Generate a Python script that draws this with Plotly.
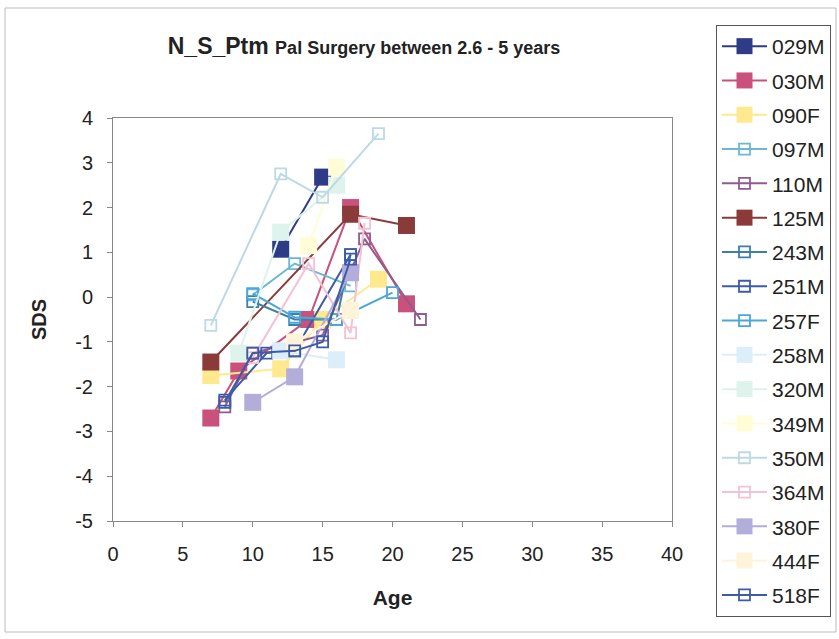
import plotly.graph_objects as go

# ---- data ----
names = ["029M", "030M", "090F", "097M", "110M", "125M", "243M", "251M", "257F",
         "258M", "320M", "349M", "350M", "364M", "380F", "444F", "518F"]

x_029M = [12, 15]
y_029M = [1.07, 2.68]
x_030M = [7, 9, 14, 17, 21]
y_030M = [-2.7, -1.65, -0.5, 2.0, -0.15]
x_090F = [7, 12, 15, 19]
y_090F = [-1.75, -1.6, -0.5, 0.4]
x_097M = [10, 13, 17]
y_097M = [0.05, 0.75, 0.25]
x_110M = [8, 10, 15, 18, 22]
y_110M = [-2.45, -1.25, -0.85, 1.3, -0.5]
x_125M = [7, 17, 21]
y_125M = [-1.45, 1.85, 1.6]
x_243M = [10, 13, 16, 17]
y_243M = [-0.1, -0.5, -0.5, 0.95]
x_251M = [8, 11, 13, 17]
y_251M = [-2.3, -1.25, -1.2, 0.95]
x_257F = [10, 13, 16, 20]
y_257F = [0.08, -0.45, -0.5, 0.1]
x_258M = [12, 16]
y_258M = [-1.2, -1.4]
x_320M = [9, 12, 16]
y_320M = [-1.25, 1.45, 2.5]
x_349M = [14, 16]
y_349M = [1.15, 2.9]
x_350M = [7, 12, 15, 19]
y_350M = [-0.63, 2.75, 2.23, 3.65]
x_364M = [10, 14, 17, 18]
y_364M = [-1.35, 0.75, -0.8, 1.65]
x_380F = [10, 13, 17]
y_380F = [-2.35, -1.78, 0.55]
x_444F = [13, 17]
y_444F = [-1.0, -0.3]
x_518F = [8, 10, 13, 15, 17]
y_518F = [-2.35, -1.25, -1.2, -1.0, 0.85]

x_tick_vals = [0, 5, 10, 15, 20, 25, 30, 35, 40]
x_tick_text = ["0", "5", "10", "15", "20", "25", "30", "35", "40"]
y_tick_vals = [-5, -4, -3, -2, -1, 0, 1, 2, 3, 4]
y_tick_text = ["-5", "-4", "-3", "-2", "-1", "0", "1", "2", "3", "4"]

xs = [x_029M, x_030M, x_090F, x_097M, x_110M, x_125M, x_243M, x_251M, x_257F,
      x_258M, x_320M, x_349M, x_350M, x_364M, x_380F, x_444F, x_518F]
ys = [y_029M, y_030M, y_090F, y_097M, y_110M, y_125M, y_243M, y_251M, y_257F,
      y_258M, y_320M, y_349M, y_350M, y_364M, y_380F, y_444F, y_518F]

# ---- styles ----
colors = ["#2E3B87", "#C9517C", "#FFE98E", "#6AB8D4", "#8E5C8E", "#8B3A3A", "#3C7FA9",
          "#3C5CA8", "#4BA7D6", "#DCEEFA", "#DDF3EC", "#FFFDD6", "#BCD9E6", "#F2C3D2",
          "#B3ADDA", "#FFF4DA", "#3D5BA6"]
filled = [True, True, True, False, False, True, False, False, False,
          True, True, True, False, False, True, True, False]

FONT = "Liberation Sans, Arial, sans-serif"

fig = go.Figure()
for i, n in enumerate(names):
    if filled[i]:
        marker = dict(symbol="square", size=17, color=colors[i], line=dict(width=0))
    else:
        marker = dict(symbol="square-open", size=11, color=colors[i], line=dict(width=1.8))
    fig.add_trace(go.Scatter(
        x=xs[i], y=ys[i], name=n, mode="lines+markers",
        line=dict(color=colors[i], width=2),
        marker=marker, legendgroup=n,
    ))

tick_font = dict(family=FONT, size=20, color="#222")
fig.update_layout(
    width=839, height=639,
    paper_bgcolor="white", plot_bgcolor="white",
    margin=dict(l=113, r=167, t=118, b=118),
    font=dict(family=FONT, size=16, color="#222"),
    title=dict(
        text="<b>N_S_Ptm <span style='font-size:18px'>Pal Surgery between 2.6 - 5 years</span></b>",
        x=(364 - 113) / 559, xref="paper", xanchor="center",
        y=1 - 46 / 639, yref="container", yanchor="middle",
        font=dict(family=FONT, size=23, color="#222"),
    ),
    xaxis=dict(range=[0, 40], tickvals=x_tick_vals, ticktext=x_tick_text,
               showgrid=False, zeroline=False,
               showline=True, linecolor="#888", mirror=True, linewidth=1,
               ticks="outside", ticklen=5, tickcolor="#888", ticklabelstandoff=10,
               title=dict(text="<b>Age</b>", standoff=26, font=dict(family=FONT, size=21, color="#222")),
               tickfont=tick_font),
    yaxis=dict(range=[-5, 4], tickvals=y_tick_vals, ticktext=y_tick_text,
               showgrid=False, zeroline=False,
               showline=True, linecolor="#888", mirror=True, linewidth=1,
               ticks="outside", ticklen=5, tickcolor="#888", ticklabelstandoff=10,
               title=dict(text="<b>SDS</b>", standoff=23, font=dict(family=FONT, size=20, color="#222")),
               tickfont=tick_font),
    legend=dict(
        xref="container", yref="container",
        x=716 / 839, y=1 - 25 / 639, xanchor="left", yanchor="top",
        bordercolor="#555", borderwidth=1, bgcolor="white",
        font=dict(family=FONT, size=21, color="#222"),
        tracegroupgap=4, traceorder="grouped", maxheight=900, itemwidth=45,
    ),
    shapes=[dict(type="rect", xref="paper", yref="paper",
                 x0=(5 - 113) / 559, x1=(836 - 113) / 559,
                 y0=-(632 - 521) / 403, y1=1 + (118 - 8) / 403,
                 line=dict(color="#bbb", width=1), layer="below")],
)

fig.write_html("out.html", config={"displayModeBar": False},
               post_script="document.body.style.margin='0';")
